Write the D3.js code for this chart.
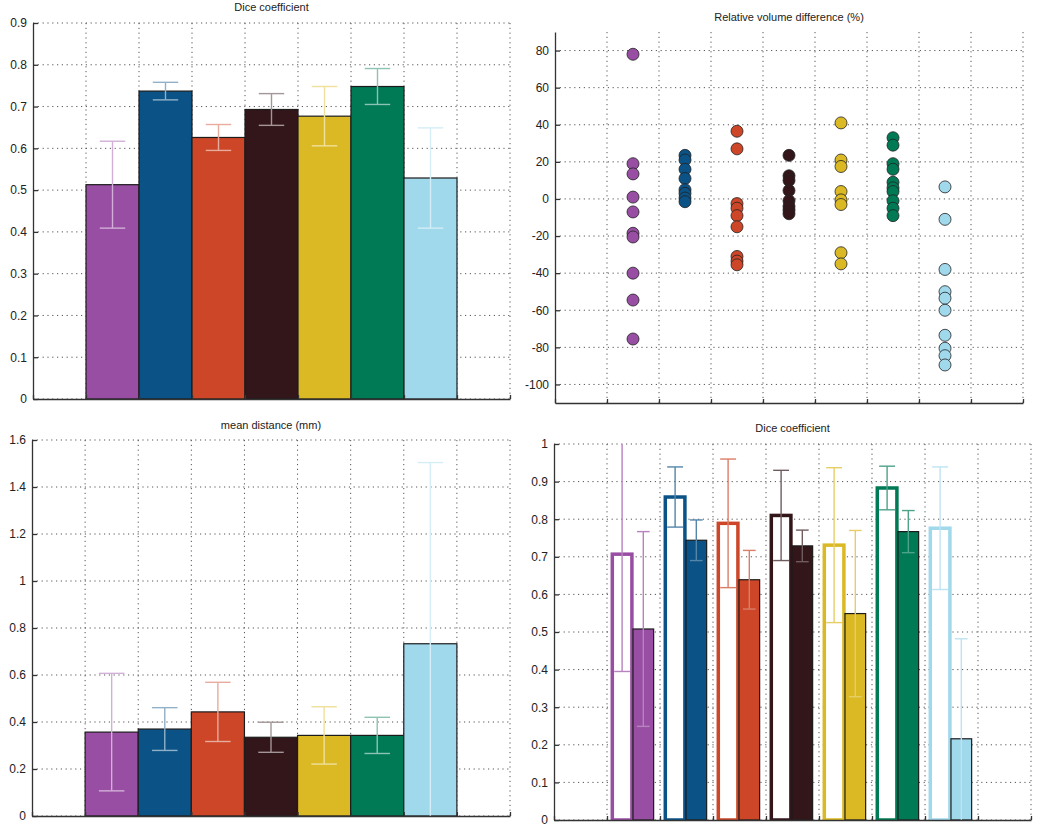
<!DOCTYPE html>
<html>
<head>
<meta charset="utf-8">
<script src="https://cdn.jsdelivr.net/npm/d3@7"></script>
<style>
  body { margin: 0; background: #fff; }
  text { font-family: "Liberation Sans", Arial, sans-serif; fill: #222; }
  .tick text { font-size: 12px; }
  .title { font-size: 11px; }
  .grid line { stroke: #555; stroke-width: 1; stroke-dasharray: 1.2,3.6; }
  .axis path, .axis line { stroke: #333; stroke-width: 1.3; }
</style>
</head>
<body>
<svg width="1050" height="830"></svg>
<script>
// one colour per method, left to right
var colors = ['#984ea3', '#0b5286', '#cc4627', '#33161a', '#dbb924', '#007a55', '#a0d8ec'];

// top left: Dice coefficient (mean, sd)
var diceMean = [0.513, 0.737, 0.626, 0.693, 0.677, 0.748, 0.529];
var diceSd   = [0.104, 0.021, 0.031, 0.038, 0.071, 0.043, 0.120];

// top right: relative volume difference (%) per case
var volDiff = [
    [78, 19, 13.5, 1, -7, -18.5, -20.5, -40, -54.5, -75.5],
    [23.5, 21, 16, 11, 5, 3, 0.5, -1.5],
    [36.5, 27, -2.5, -5, -9, -15, -31, -33.5, -35.5],
    [23.5, 12.5, 10, 4.5, -1, -4, -6, -8],
    [41, 21, 17.5, 4, -0.5, -3, -29, -35],
    [33, 29, 19, 16, 9, 6, 4, -1, -5, -9],
    [6.5, -11, -38, -50, -53.5, -60, -73.5, -80.5, -84.5, -89.5]
];

// bottom left: mean distance (mm)
var distMean = [0.357, 0.370, 0.443, 0.335, 0.343, 0.343, 0.733];
var distSd   = [0.250, 0.091, 0.126, 0.064, 0.122, 0.077, 0.771];

// bottom right: Dice coefficient, two series (outlined / filled)
var diceAMean = [0.707, 0.859, 0.789, 0.810, 0.731, 0.883, 0.776];
var diceASd   = [0.312, 0.080, 0.171, 0.120, 0.206, 0.058, 0.163];
var diceBMean = [0.508, 0.744, 0.639, 0.729, 0.549, 0.767, 0.216];
var diceBSd   = [0.259, 0.054, 0.078, 0.042, 0.221, 0.056, 0.266];

// tick values
var diceTicks = d3.range(0, 0.95, 0.1);
var volTicks = d3.range(-100, 81, 20);
var distTicks = d3.range(0, 1.65, 0.2);
var dice2Ticks = d3.range(0, 1.05, 0.1);
var xTicks = d3.range(0, 10);

var svg = d3.select('svg');
var fmt = function (d) { return String(+d.toFixed(2)); };
var clipId = 0;

function lighten(c, t) {
    return d3.interpolateRgb(c, '#fff')(t);
}

// builds axes, grid and title; returns scales and a clipped group
function makePanel(box, yDomain, yTicks, title, titleY) {
    var x = d3.scaleLinear().domain([0, 9]).range([box.l, box.r]);
    var y = d3.scaleLinear().domain(yDomain).range([box.b, box.t]);
    var g = svg.append('g');

    var grid = g.append('g').attr('class', 'grid');
    grid.selectAll('.gy').data(yTicks).enter().append('line')
        .attr('x1', box.l).attr('x2', box.r)
        .attr('y1', function (d) { return y(d); })
        .attr('y2', function (d) { return y(d); });
    grid.selectAll('.gx').data(xTicks.slice(1)).enter().append('line')
        .attr('x1', function (d) { return x(d); })
        .attr('x2', function (d) { return x(d); })
        .attr('y1', box.t).attr('y2', box.b);

    var id = 'clip' + (clipId++);
    svg.append('clipPath').attr('id', id).append('rect')
        .attr('x', box.l).attr('y', box.t)
        .attr('width', box.r - box.l).attr('height', box.b - box.t);
    var plot = g.append('g').attr('clip-path', 'url(#' + id + ')');

    var axes = g.append('g');
    axes.append('g').attr('class', 'axis')
        .attr('transform', 'translate(' + box.l + ',0)')
        .call(d3.axisLeft(y).tickValues(yTicks).tickFormat(fmt)
            .tickSizeInner(-5).tickSizeOuter(0).tickPadding(6));
    axes.append('g').attr('class', 'axis')
        .attr('transform', 'translate(0,' + box.b + ')')
        .call(d3.axisBottom(x).tickValues(xTicks).tickFormat('')
            .tickSizeInner(-4).tickSizeOuter(0));

    g.append('text').attr('class', 'title')
        .attr('x', (box.l + box.r) / 2).attr('y', titleY)
        .attr('text-anchor', 'middle')
        .text(title);

    return { x: x, y: y, plot: plot, axes: axes };
}

function errorBars(p, centers, means, sds, halfCap, tint, width) {
    var eb = p.plot.selectAll(null).data(means).enter().append('g')
        .attr('stroke', function (d, i) { return lighten(colors[i], tint); })
        .attr('stroke-width', width);
    eb.append('line')
        .attr('x1', function (d, i) { return p.x(centers[i]); })
        .attr('x2', function (d, i) { return p.x(centers[i]); })
        .attr('y1', function (d, i) { return p.y(d - sds[i]); })
        .attr('y2', function (d, i) { return p.y(d + sds[i]); });
    [-1, 1].forEach(function (s) {
        eb.append('line')
            .attr('x1', function (d, i) { return p.x(centers[i] - halfCap); })
            .attr('x2', function (d, i) { return p.x(centers[i] + halfCap); })
            .attr('y1', function (d, i) { return p.y(d + s * sds[i]); })
            .attr('y2', function (d, i) { return p.y(d + s * sds[i]); });
    });
}

function simpleBars(p, means, sds) {
    var centers = means.map(function (d, i) { return i + 1.5; });
    p.plot.selectAll(null).data(means).enter().append('rect')
        .attr('x', function (d, i) { return p.x(i + 1); })
        .attr('width', function (d, i) { return p.x(i + 2) - p.x(i + 1); })
        .attr('y', function (d) { return p.y(d); })
        .attr('height', function (d) { return p.y(0) - p.y(d); })
        .attr('fill', function (d, i) { return colors[i]; })
        .attr('stroke', '#1c1c1c').attr('stroke-width', 1.2);
    errorBars(p, centers, means, sds, 0.24, 0.55, 1.4);
    p.axes.raise();
}

// panel 1
var p1 = makePanel({ l: 33, r: 510, t: 23, b: 399 }, [0, 0.9], diceTicks, 'Dice coefficient', 11);
simpleBars(p1, diceMean, diceSd);

// panel 2
var p2 = makePanel({ l: 555, r: 1023, t: 32, b: 403 }, [-110, 90], volTicks, 'Relative volume difference (%)', 21);
volDiff.forEach(function (vals, i) {
    p2.plot.selectAll(null).data(vals).enter().append('circle')
        .attr('cx', p2.x(i + 1.5))
        .attr('cy', function (d) { return p2.y(d); })
        .attr('r', 6)
        .attr('fill', colors[i])
        .attr('stroke', '#222').attr('stroke-width', 0.8);
});

// panel 3
var p3 = makePanel({ l: 32, r: 510, t: 440, b: 816 }, [0, 1.6], distTicks, 'mean distance (mm)', 429);
simpleBars(p3, distMean, distSd);

// panel 4
var p4 = makePanel({ l: 554, r: 1031, t: 444, b: 820 }, [0, 1], dice2Ticks, 'Dice coefficient', 432);
p4.plot.selectAll(null).data(diceAMean).enter().append('rect')
    .attr('x', function (d, i) { return p4.x(i + 1.1); })
    .attr('width', function (d, i) { return p4.x(i + 1.47) - p4.x(i + 1.1); })
    .attr('y', function (d) { return p4.y(d); })
    .attr('height', function (d) { return p4.y(0) - p4.y(d); })
    .attr('fill', '#fff')
    .attr('stroke', function (d, i) { return colors[i]; })
    .attr('stroke-width', 3.5);
p4.plot.selectAll(null).data(diceBMean).enter().append('rect')
    .attr('x', function (d, i) { return p4.x(i + 1.49); })
    .attr('width', function (d, i) { return p4.x(i + 1.88) - p4.x(i + 1.49); })
    .attr('y', function (d) { return p4.y(d); })
    .attr('height', function (d) { return p4.y(0) - p4.y(d); })
    .attr('fill', function (d, i) { return colors[i]; })
    .attr('stroke', '#1c1c1c').attr('stroke-width', 1.2);
errorBars(p4, diceAMean.map(function (d, i) { return i + 1.285; }), diceAMean, diceASd, 0.15, 0.3, 1.4);
errorBars(p4, diceBMean.map(function (d, i) { return i + 1.685; }), diceBMean, diceBSd, 0.12, 0.3, 1.4);
p4.axes.raise();
</script>
</body>
</html>
